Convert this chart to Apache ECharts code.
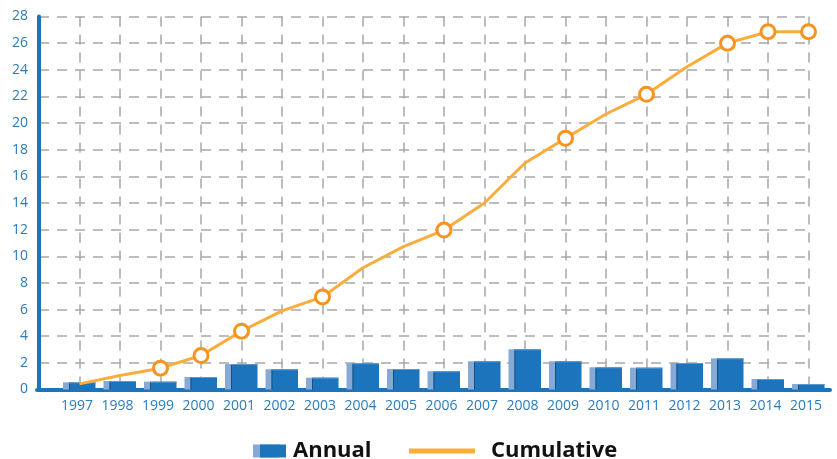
<!DOCTYPE html>
<html>
<head>
<meta charset="utf-8">
<style>
html,body{margin:0;padding:0;background:#fff;}
#chart{width:837px;height:459px;}
</style>
<script src="https://cdn.jsdelivr.net/npm/echarts@6/dist/echarts.min.js"></script>
</head>
<body>
<div id="chart"></div>
<script>
// ---- data ----
var years = ['1997','1998','1999','2000','2001','2002','2003','2004','2005','2006','2007','2008','2009','2010','2011','2012','2013','2014','2015'];
var annual = [0.54,0.64,0.59,0.94,1.91,1.52,0.89,1.97,1.54,1.37,2.12,3.02,2.12,1.67,1.64,1.99,2.34,0.79,0.41];
var cumulative = [0.42,1.05,1.6,2.55,4.38,5.9,6.95,9.14,10.72,11.97,14.0,17.0,18.86,20.68,22.16,24.23,26.0,26.86,26.86];
var markedYears = ['1999','2000','2001','2003','2006','2009','2011','2013','2014','2015'];
var yTicks = [0,2,4,6,8,10,12,14,16,18,20,22,24,26,28];

// ---- styles ----
var BLUE = '#1c75bc';
var LABEL = '#2b7bbf';
var LIGHT = '#87a9d6';
var ORANGE = '#fbad3c';
var ORANGE_DARK = '#f7941d';
var GRID = '#a8a8a8';
var FONT = "'Open Sans', 'Noto Sans', sans-serif";

var cats = [''].concat(years);
var barData = years.map(function (y, i) { return [i + 1, annual[i]]; });
var lineData = [null].concat(years.map(function (y, i) {
  return { value: cumulative[i], symbol: markedYears.indexOf(y) >= 0 ? 'circle' : 'none' };
}));

var chart = echarts.init(document.getElementById('chart'), null, { renderer: 'canvas' });
chart.setOption({
  animation: false,
  backgroundColor: '#fff',
  grid: [
    { left: 39, right: 28.5, top: 16.5, bottom: 69.5 },
    { left: 37, right: 7, top: 16.5, bottom: 69.5 }
  ],
  xAxis: [
    {
      type: 'category', gridIndex: 0, data: cats, boundaryGap: false,
      axisLine: { show: false }, axisTick: { show: false },
      axisLabel: { color: LABEL, fontSize: 14, fontFamily: FONT, margin: 10, interval: 0, padding: [0, 5, 0, 0] },
      splitLine: { show: true, lineStyle: { color: GRID, width: 1.5, type: [10, 8] } }
    },
    {
      type: 'value', gridIndex: 1, min: 0, max: 1,
      axisLine: { show: true, lineStyle: { color: BLUE, width: 4 } },
      axisTick: { show: false }, axisLabel: { show: false }, splitLine: { show: false }
    }
  ],
  yAxis: [
    {
      type: 'value', gridIndex: 0, min: yTicks[0], max: yTicks[yTicks.length - 1], interval: 2,
      axisLine: { show: true, lineStyle: { color: BLUE, width: 4, cap: 'round' } },
      axisTick: { show: false },
      axisLabel: { color: LABEL, fontSize: 14, fontFamily: FONT, margin: 11 },
      splitLine: { show: true, lineStyle: { color: GRID, width: 1.5, type: [10, 8] } }
    },
    { type: 'value', gridIndex: 1, show: false, min: 0, max: 1 }
  ],
  legend: [
    {
      data: [{ name: 'Annual', icon: 'rect' }],
      left: 260, top: 434, itemWidth: 26, itemHeight: 13, padding: 0,
      itemStyle: { color: BLUE, shadowColor: LIGHT, shadowOffsetX: -7, shadowOffsetY: 0, shadowBlur: 0, borderWidth: 0 },
      textStyle: { color: '#111', fontSize: 22, fontWeight: 'bold', fontFamily: FONT, padding: [0, 0, 0, 2], lineHeight: 34 },
      selectedMode: false
    },
    {
      data: [{ name: 'Cumulative', icon: 'rect' }],
      left: 409, top: 434, itemWidth: 66, itemHeight: 5, padding: 0,
      itemStyle: { color: ORANGE, borderWidth: 0 },
      lineStyle: { width: 0 },
      textStyle: { color: '#111', fontSize: 22, fontWeight: 'bold', fontFamily: FONT, padding: [0, 0, 0, 11], lineHeight: 34 },
      selectedMode: false
    }
  ],
  series: [
    {
      name: 'Annual', type: 'custom', xAxisIndex: 0, yAxisIndex: 0,
      itemStyle: { color: BLUE },
      encode: { x: 0, y: 1 },
      data: barData,
      renderItem: function (params, api) {
        var top = api.coord([api.value(0), api.value(1)]);
        var base = api.coord([api.value(0), 0]);
        var cx = top[0];
        var h = base[1] - top[1];
        return {
          type: 'group',
          children: [
            { type: 'rect', shape: { x: cx - 16.5, y: top[1], width: 6.5, height: h }, style: { fill: LIGHT } },
            { type: 'rect', shape: { x: cx - 10.5, y: top[1], width: 26.5, height: h }, style: { fill: BLUE } },
            { type: 'rect', shape: { x: cx - 10.5, y: top[1] + 1, width: 1, height: h - 1 }, style: { fill: '#15507f' } },
            { type: 'rect', shape: { x: cx - 10.5, y: top[1], width: 26.5, height: 1 }, style: { fill: '#5f97c9' } }
          ]
        };
      }
    },
    {
      name: 'Cumulative', type: 'line', xAxisIndex: 0, yAxisIndex: 0,
      data: lineData,
      symbolSize: 14,
      showAllSymbol: true,
      lineStyle: { color: ORANGE, width: 3 },
      itemStyle: { color: '#fff', borderColor: ORANGE_DARK, borderWidth: 3 },
      z: 5
    }
  ]
});
</script>
</body>
</html>
